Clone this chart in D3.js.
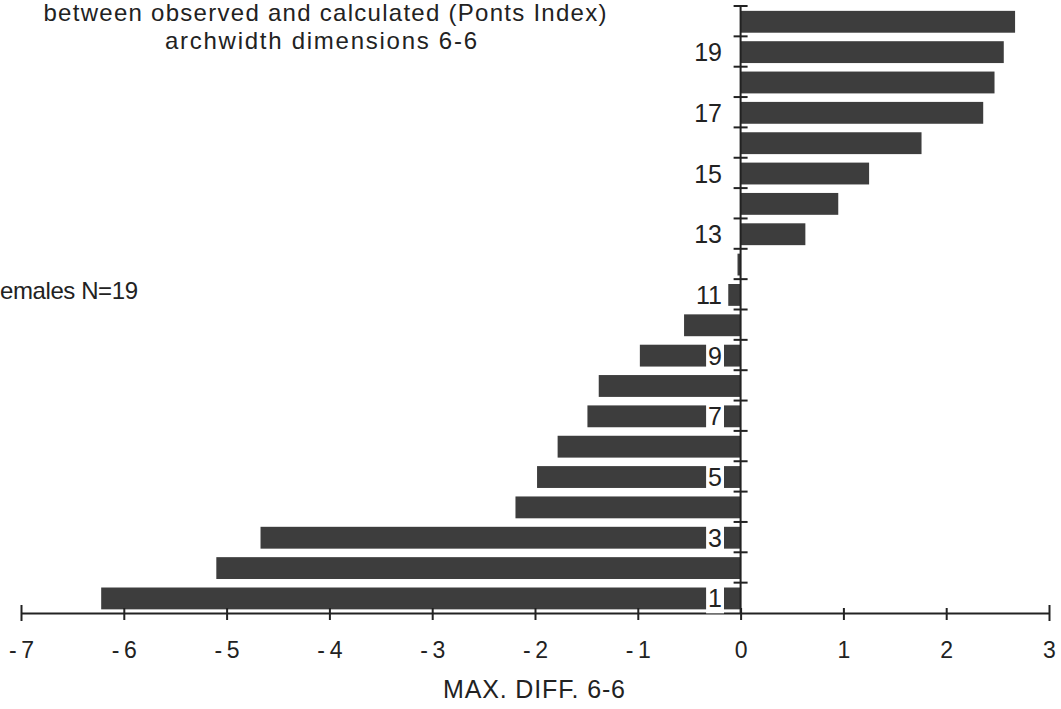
<!DOCTYPE html>
<html>
<head>
<meta charset="utf-8">
<script src="https://cdn.jsdelivr.net/npm/d3@7"></script>
<style>
  body { margin: 0; background: #fff; }
  svg { display: block; font-family: "Liberation Sans", Arial, Helvetica, sans-serif; }
</style>
</head>
<body>
<div id="chart"></div>
<script>
// category numbers (bottom to top) and max difference values
const cases = [1, 2, 3, 4, 5, 6, 7, 8, 9, 10, 11, 12, 13, 14, 15, 16, 17, 18, 19, 20];
const maxDiff = [-6.22, -5.10, -4.67, -2.19, -1.98, -1.78, -1.49, -1.38, -0.98, -0.55,
                 -0.12, -0.03, 0.63, 0.95, 1.25, 1.76, 2.36, 2.47, 2.56, 2.67];
const labelledCases = [1, 3, 5, 7, 9, 11, 13, 15, 17, 19];
const xTicks = [-7, -6, -5, -4, -3, -2, -1, 0, 1, 2, 3];
const titleLines = ["between observed and calculated (Ponts Index)", "archwidth dimensions 6-6"];
const groupText = "emales N=19"; // the "F" is cropped off in the source
const xTitle = "MAX. DIFF. 6-6";

const W = 1061, H = 709;
const ink = "#222";
const barColor = "#3d3d3d";

const data = cases.map((c, i) => ({ c: c, v: maxDiff[i] }));

const svg = d3.select("#chart").append("svg")
  .attr("width", W).attr("height", H);

// scales
const x = d3.scaleLinear().domain([-7, 3]).range([21, 1049]);
const y = d3.scaleBand().domain(cases.slice().reverse()).range([6, 613]).padding(0);
const bw = y.bandwidth();
const barTop = c => y(c) + bw * 0.16;
const barH = bw * 0.72;

// bars
svg.append("g").selectAll("rect").data(data).enter()
  .append("rect")
  .attr("x", d => x(Math.min(0, d.v)))
  .attr("width", d => Math.abs(x(d.v) - x(0)))
  .attr("y", d => barTop(d.c))
  .attr("height", barH)
  .attr("fill", barColor);

// x axis
const xAxis = svg.append("g")
  .attr("transform", `translate(0,${y.range()[1]})`)
  .call(d3.axisBottom(x).tickValues(xTicks).tickSize(0).tickPadding(29)
    .tickFormat(d => d < 0 ? "-\u2009" + (-d) : d));
xAxis.select(".domain").attr("stroke", ink).attr("stroke-width", 2);
xAxis.selectAll(".tick text").attr("fill", ink).attr("font-size", 23)
  .attr("font-family", "Liberation Sans, Arial, sans-serif");
xAxis.selectAll(".tick").append("line")
  .attr("y1", (d, i) => (i === 0 || i === xTicks.length - 1) ? -8 : -5)
  .attr("y2", (d, i) => (i === 0 || i === xTicks.length - 1) ? 8 : 7)
  .attr("stroke", ink).attr("stroke-width", 2);

// y axis (ticks at band boundaries)
const yLine = svg.append("g").attr("transform", `translate(${x(0)},0)`);
yLine.append("line")
  .attr("y1", y.range()[0]).attr("y2", y.range()[1])
  .attr("stroke", ink).attr("stroke-width", 2);
yLine.selectAll("line.tk").data(cases).enter()
  .append("line").attr("class", "tk")
  .attr("x1", -7).attr("x2", 7)
  .attr("y1", d => y(d)).attr("y2", d => y(d))
  .attr("stroke", ink).attr("stroke-width", 2);

// category labels with white background boxes
const labG = svg.append("g");
labelledCases.forEach(c => {
  const g = labG.append("g");
  const bg = g.append("rect").attr("fill", "#fff");
  const t = g.append("text")
    .attr("x", 722)
    .attr("y", barTop(c) + barH / 2)
    .attr("dy", "0.36em")
    .attr("text-anchor", "end")
    .attr("font-size", 25)
    .attr("fill", ink)
    .text(c);
  const b = t.node().getBBox();
  bg.attr("x", b.x - 2).attr("width", b.width + 4)
    .attr("y", barTop(c) - 1).attr("height", barH + 5);
});

// titles
svg.selectAll("text.title").data(titleLines).enter()
  .append("text").attr("class", "title")
  .attr("x", (d, i) => i === 0 ? 325 : 321)
  .attr("y", (d, i) => i === 0 ? 21 : 49)
  .attr("text-anchor", "middle")
  .attr("font-size", 24)
  .attr("fill", ink)
  .attr("textLength", (d, i) => i === 0 ? 563 : 312)
  .attr("lengthAdjust", "spacing")
  .text(d => d);

svg.append("text")
  .attr("x", 0).attr("y", 299)
  .attr("font-size", 24)
  .attr("fill", ink)
  .attr("textLength", 138)
  .attr("lengthAdjust", "spacing")
  .text(groupText);

svg.append("text")
  .attr("x", 534).attr("y", 698)
  .attr("text-anchor", "middle")
  .attr("font-size", 25)
  .attr("fill", ink)
  .attr("textLength", 182)
  .attr("lengthAdjust", "spacing")
  .text(xTitle);
</script>
</body>
</html>
